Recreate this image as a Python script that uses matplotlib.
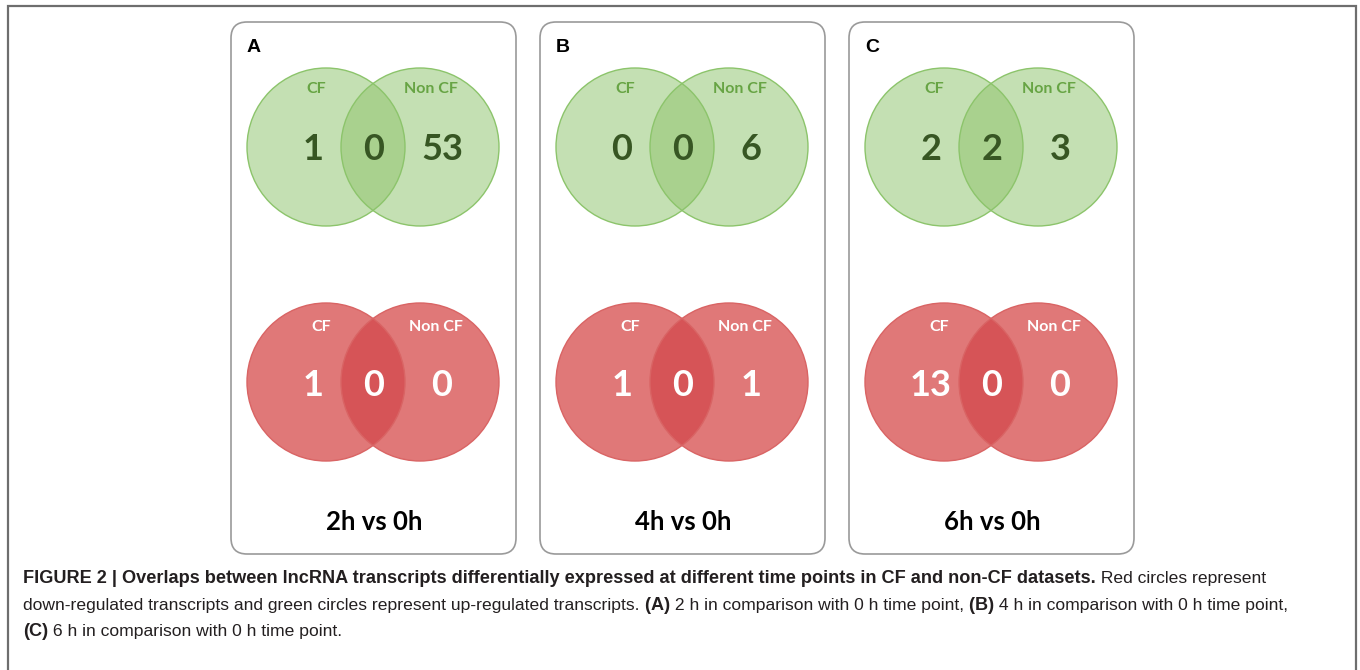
import matplotlib
matplotlib.use("Agg")
import matplotlib.pyplot as plt
from matplotlib.patches import Circle, FancyBboxPatch

# ---------------- data ----------------
panel_letters = ["A", "B", "C"]
comparisons = ["2h vs 0h", "4h vs 0h", "6h vs 0h"]
set_labels = ["CF", "Non CF"]
up_cf_only = [1, 0, 2]
up_both = [0, 0, 2]
up_noncf_only = [53, 6, 3]
down_cf_only = [1, 1, 13]
down_both = [0, 0, 0]
down_noncf_only = [0, 1, 0]

caption_lines = [
    [("FIGURE 2 | Overlaps between lncRNA transcripts differentially expressed at different time points in CF and non-CF datasets.", True),
     (" Red circles represent", False)],
    [("down-regulated transcripts and green circles represent up-regulated transcripts.", False),
     (" (A)", True), (" 2 h in comparison with 0 h time point,", False),
     (" (B)", True), (" 4 h in comparison with 0 h time point,", False)],
    [("(C)", True), (" 6 h in comparison with 0 h time point.", False)],
]

# ---------------- layout ----------------
W, H = 1360, 670
fig = plt.figure(figsize=(W / 100, H / 100), dpi=100)
ax = fig.add_axes([0, 0, 1, 1])
ax.set_xlim(0, W)
ax.set_ylim(H, 0)
ax.axis("off")

# outer frame
ax.plot([8, 8, 1356, 1356], [H + 5, 6, 6, H + 5], color="#6e6e6e", lw=1.6,
        solid_joinstyle="miter", clip_on=False)

panel_x0 = [231, 540, 849]
box_w, box_top, box_bot = 285, 22, 554
r = 79
cx_l, cx_r = 95, 189
cy_up, cy_down = 147, 382
num_dx = [82, 143, 211]

green = dict(single="#c4e0b3", overlap="#a9d18e", edge="#8cc46b",
             label="#67a444", num="#375623")
red = dict(single="#e07878", overlap="#d65457", edge="#d96464",
           label="white", num="white")

font_panel = "Lato"


def venn(x0, cy, vals, st, lab_dy, lab_dx):
    left = Circle((x0 + cx_l, cy), r, facecolor=st["single"], edgecolor="none", zorder=2)
    right = Circle((x0 + cx_r, cy), r, facecolor=st["single"], edgecolor="none", zorder=2)
    ax.add_patch(left)
    ax.add_patch(right)
    lens = Circle((x0 + cx_r, cy), r, facecolor=st["overlap"], edgecolor="none", zorder=3)
    ax.add_patch(lens)
    clipc = Circle((x0 + cx_l, cy), r, transform=ax.transData)
    lens.set_clip_path(clipc)
    for cx in (cx_l, cx_r):
        ax.add_patch(Circle((x0 + cx, cy), r, facecolor="none",
                            edgecolor=st["edge"], lw=1.0, zorder=4))
    for dx, v in zip(num_dx, vals):
        ax.text(x0 + dx, cy + 3, str(v), ha="center", va="center",
                fontsize=26, fontweight="bold", color=st["num"],
                family=font_panel, zorder=5)
    ax.text(x0 + lab_dx[0], cy + lab_dy, set_labels[0], ha="center", va="center",
            fontsize=11.5, fontweight="bold", color=st["label"], family=font_panel, zorder=5)
    ax.text(x0 + lab_dx[1], cy + lab_dy, set_labels[1], ha="center", va="center",
            fontsize=11.5, fontweight="bold", color=st["label"], family=font_panel, zorder=5)


for i, x0 in enumerate(panel_x0):
    box = FancyBboxPatch((x0, box_top), box_w, box_bot - box_top,
                         boxstyle="round,pad=0,rounding_size=16",
                         facecolor="white", edgecolor="#9a9a9a", lw=1.2, zorder=1)
    ax.add_patch(box)
    ax.text(x0 + 16, 47, panel_letters[i], ha="left", va="center", fontsize=14,
            fontweight="bold", color="black", family="Liberation Sans", zorder=5)
    venn(x0, cy_up, [up_cf_only[i], up_both[i], up_noncf_only[i]], green,
         -58, (85, 200))
    venn(x0, cy_down, [down_cf_only[i], down_both[i], down_noncf_only[i]], red,
         -55, (90, 205))
    ax.text(x0 + 143, 522, comparisons[i], ha="center", va="center", fontsize=18.5,
            fontweight="bold", color="black", family=font_panel, zorder=5)

# ---------------- caption ----------------
fig.canvas.draw()
renderer = fig.canvas.get_renderer()
cap_base = [583, 610, 636]
for y, segs in zip(cap_base, caption_lines):
    x = 23
    for txt, bold in segs:
        t = ax.text(x, y, txt, ha="left", va="baseline",
                    fontsize=13.1 if bold else 12.6,
                    fontweight="bold" if bold else "normal", color="#231f20",
                    family="Liberation Sans")
        bb = t.get_window_extent(renderer=renderer)
        x += bb.width

fig.savefig("out.png", dpi=100)
